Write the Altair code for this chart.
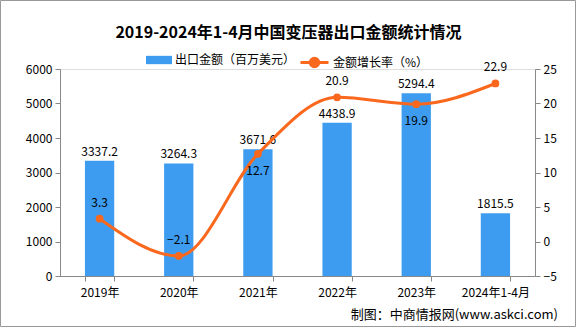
import altair as alt
import pandas as pd

years = ["2019年", "2020年", "2021年", "2022年", "2023年", "2024年1-4月"]
export_value = [3337.2, 3264.3, 3671.6, 4438.9, 5294.4, 1815.5]
growth = [3.3, -2.1, 12.7, 20.9, 19.9, 22.9]
growth_label_above = [True, True, False, True, False, True]
title_text = "2019-2024年1-4月中国变压器出口金额统计情况"
source_text = "制图：中商情报网(www.askci.com)"

BAR = "#3d9cef"
LINE = "#fa681e"
FONT = "Noto Sans CJK SC"

df = pd.DataFrame({
    "year": years,
    "value": export_value,
    "growth": growth,
    "above": growth_label_above,
    "bar_s": ["出口金额（百万美元）"] * len(years),
    "line_s": ["金额增长率（%）"] * len(years),
})

x = alt.X("year:N", sort=years, title=None,
          scale=alt.Scale(paddingInner=0.63, paddingOuter=0.315),
          axis=alt.Axis(labelAngle=0, tickBand="extent", labelFontSize=12,
                        labelColor="#000", domainColor="#888", tickColor="#888",
                        labelPadding=6, labelFont=FONT))
xs = alt.X("year:N", sort=years)

yl = alt.Y("value:Q", title=None,
           scale=alt.Scale(domain=[0, 6000], nice=False),
           axis=alt.Axis(values=[0, 1000, 2000, 3000, 4000, 5000, 6000], grid=False, format="d",
                         labelFontSize=12, labelColor="#000", domainColor="#888",
                         tickColor="#888", tickSize=5, labelPadding=3, labelFont=FONT))

yr = alt.Y("growth:Q", title=None,
           scale=alt.Scale(domain=[-5, 25], nice=False),
           axis=alt.Axis(orient="right", values=[-5, 0, 5, 10, 15, 20, 25], grid=False, format="d",
                         labelFontSize=12, labelColor="#000", domainColor="#888",
                         tickColor="#888", tickSize=5, labelPadding=3, labelFont=FONT))

base = alt.Chart(df)

bars = base.mark_bar(color=BAR).encode(
    x=x,
    y=yl,
    fill=alt.Fill("bar_s:N", title=None,
                  scale=alt.Scale(range=[BAR]),
                  legend=alt.Legend(orient="none", legendX=86, legendY=-22,
                                    symbolType="M-1,-0.32L1,-0.32L1,0.32L-1,0.32Z",
                                    symbolSize=676, symbolStrokeWidth=0, labelOffset=3,
                                    labelFontSize=12, labelFont=FONT, labelColor="#000")),
)

bar_text = base.mark_text(dy=-9, fontSize=12, font=FONT, color="#000").encode(
    x=xs, y=yl, text=alt.Text("value:Q", format=".1f"),
)

line = base.mark_line(interpolate="monotone", strokeWidth=3).encode(
    x=xs,
    y=yr,
    stroke=alt.Stroke("line_s:N", title=None,
                      scale=alt.Scale(range=[LINE]),
                      legend=alt.Legend(orient="none", legendX=239, legendY=-22,
                                        symbolType="M-1,0L-0.3,0A0.3,0.3 0 1,1 0.3,0A0.3,0.3 0 1,1 -0.3,0M0.3,0L1,0",
                                        symbolSize=784, symbolStrokeWidth=3, labelOffset=3,
                                        symbolFillColor=LINE,
                                        labelFontSize=12, labelFont=FONT, labelColor="#000")),
)

pts = base.mark_point(filled=True, size=60, color=LINE, opacity=1).encode(x=xs, y=yr)

gt_above = base.transform_filter("datum.above").mark_text(dy=-16, fontSize=12, font=FONT, color="#000").encode(
    x=xs, y=yr, text=alt.Text("growth:Q", format=".1f"),
)
gt_below = base.transform_filter("!datum.above").mark_text(dy=17, fontSize=12, font=FONT, color="#000").encode(
    x=xs, y=yr, text=alt.Text("growth:Q", format=".1f"),
)

source = alt.Chart(pd.DataFrame({"t": [source_text]})).mark_text(
    align="right", baseline="middle", fontSize=13, font=FONT, color="#000"
).encode(x=alt.value(498), y=alt.value(246), text="t:N")

title = alt.Chart(pd.DataFrame({"t": [title_text]})).mark_text(
    align="center", baseline="middle", fontSize=16, font=FONT, fontWeight="bold", color="#000"
).encode(x=alt.value(228.5), y=alt.value(-36), text="t:N")

frame = alt.Chart(pd.DataFrame({"f": [0]})).mark_rect(
    fill=None, filled=False, stroke="#999", strokeWidth=1
).encode(x=alt.value(-59.5), x2=alt.value(515.5), y=alt.value(-68.5), y2=alt.value(257.5))

left = alt.layer(frame, title, bars, bar_text, source)
right = alt.layer(line, pts, gt_above, gt_below)

chart = alt.layer(left, right).resolve_scale(y="independent", fill="independent", stroke="independent").properties(
    width=475, height=207,
    autosize=alt.AutoSizeParams(type="none"),
    padding={"left": 60, "top": 69, "right": 41, "bottom": 51},
).configure_view(stroke=None).configure(background="white")

chart.save("out.html", embed_options={"renderer": "svg", "actions": False})
